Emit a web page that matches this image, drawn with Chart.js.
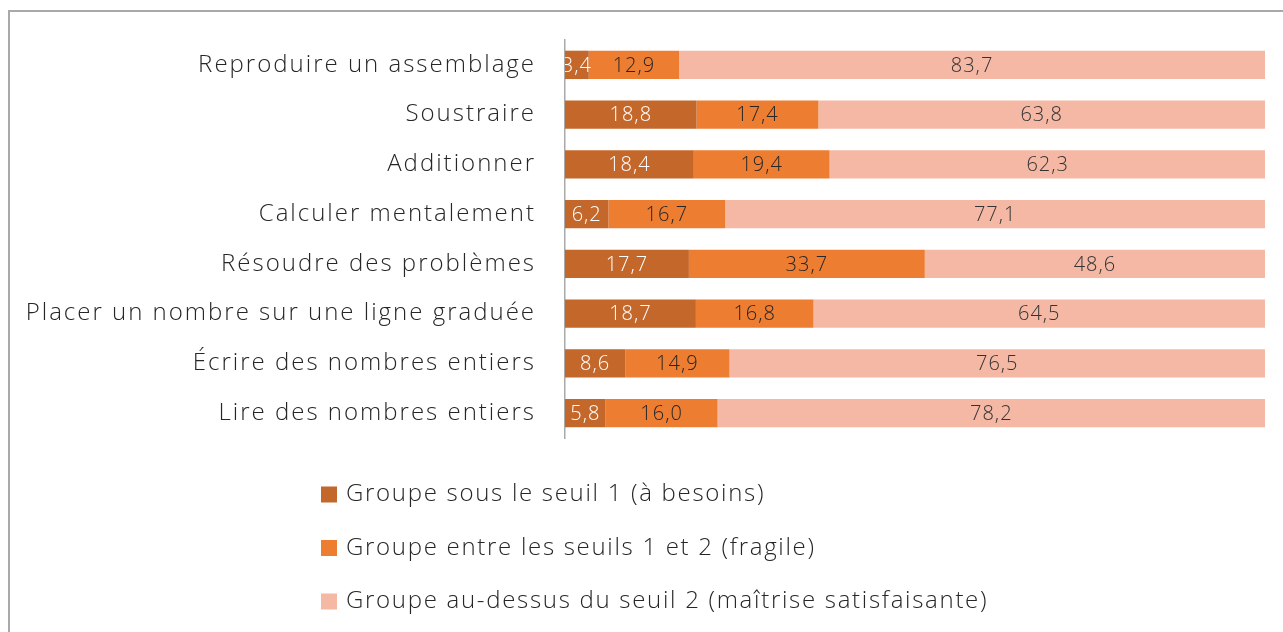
<!DOCTYPE html>
<html><head><meta charset="utf-8">
<script src="https://cdn.jsdelivr.net/npm/chart.js@4"></script>
<style>
html,body{margin:0;padding:0;background:#fff;overflow:hidden;width:1283px;height:632px;}
#frame{position:absolute;left:8px;top:10px;width:1400px;height:700px;border-top:2px solid #A9A9A9;border-left:2px solid #A9A9A9;}
#wrap{position:absolute;left:0;top:0;width:1283px;height:632px;}
</style></head><body>
<div id="frame"></div>
<div id="wrap"><canvas id="c" width="1283" height="632"></canvas></div>
<script>
const categories = [
  "Reproduire un assemblage",
  "Soustraire",
  "Additionner",
  "Calculer mentalement",
  "Résoudre des problèmes",
  "Placer un nombre sur une ligne graduée",
  "Écrire des nombres entiers",
  "Lire des nombres entiers"
];
const seriesNames = [
  "Groupe sous le seuil 1 (à besoins)",
  "Groupe entre les seuils 1 et 2 (fragile)",
  "Groupe au-dessus du seuil 2 (maîtrise satisfaisante)"
];
const belowThreshold1 = [3.4, 18.8, 18.4, 6.2, 17.7, 18.7, 8.6, 5.8];
const between1and2   = [12.9, 17.4, 19.4, 16.7, 33.7, 16.8, 14.9, 16.0];
const aboveThreshold2 = [83.7, 63.8, 62.3, 77.1, 48.6, 64.5, 76.5, 78.2];
const xTicksRange = [0, 100];

const FONT = "'Open Sans', 'Noto Sans', sans-serif";
const colors = ['#C4672A', '#ED7D31', '#F4B8A5'];
const labelColors = ['#FFFFFF', '#262626', '#333333'];
const TICK_SPACING = '2px';
const LEGEND_SPACING = '1.7px';

const spacingPlugin = {
  id: 'spacing',
  beforeDraw(chart) { chart.ctx.letterSpacing = TICK_SPACING; }
};

const dataLabelPlugin = {
  id: 'dataLabels',
  afterDatasetsDraw(chart) {
    const ctx = chart.ctx;
    const area = chart.chartArea;
    ctx.save();
    ctx.letterSpacing = '1px';
    ctx.beginPath();
    ctx.rect(area.left, area.top, area.right - area.left, area.bottom - area.top);
    ctx.clip();
    ctx.font = "300 20px " + FONT;
    ctx.textAlign = 'center';
    ctx.textBaseline = 'middle';
    chart.data.datasets.forEach((ds, di) => {
      const meta = chart.getDatasetMeta(di);
      meta.data.forEach((el, i) => {
        const v = ds.data[i];
        const cx = (el.x + el.base) / 2;
        ctx.fillStyle = labelColors[di];
        ctx.fillText(v.toFixed(1).replace('.', ','), cx, el.y + 1);
      });
    });
    ctx.restore();
  }
};

const legendPlugin = {
  id: 'customLegend',
  afterDraw(chart) {
    const ctx = chart.ctx;
    const area = chart.chartArea;
    ctx.save();
    ctx.letterSpacing = LEGEND_SPACING;
    ctx.font = "300 24px " + FONT;
    ctx.textBaseline = 'middle';
    ctx.textAlign = 'left';
    chart.data.datasets.forEach((ds, i) => {
      const cy = area.bottom + 56.5 + i * 53.5;
      ctx.fillStyle = ds.backgroundColor;
      ctx.fillRect(321, cy - 8, 16, 16);
      ctx.fillStyle = '#262626';
      ctx.fillText(ds.label, 346, cy);
    });
    ctx.restore();
  }
};

const seriesValues = [belowThreshold1, between1and2, aboveThreshold2];

new Chart(document.getElementById('c'), {
  type: 'bar',
  data: {
    labels: categories,
    datasets: seriesValues.map((vals, i) => ({
      label: seriesNames[i],
      data: vals,
      backgroundColor: colors[i],
      borderWidth: 0,
      categoryPercentage: 0.57,
      barPercentage: 1
    }))
  },
  options: {
    indexAxis: 'y',
    responsive: false,
    animation: false,
    devicePixelRatio: 1,
    layout: { padding: { top: 40, right: 18, bottom: 194, left: 0 } },
    plugins: { legend: { display: false }, tooltip: { enabled: false } },
    scales: {
      x: { stacked: true, min: xTicksRange[0], max: xTicksRange[1], display: false },
      y: {
        stacked: true,
        grid: { display: false, drawTicks: false },
        border: { display: true, color: '#A9A9A9', width: 1.5 },
        ticks: { font: { family: FONT, size: 24, weight: 300 }, color: '#262626', padding: 29 },
        afterFit(scale) { scale.width = 565; scale.paddingTop = 0; scale.paddingBottom = 0; }
      }
    }
  },
  plugins: [spacingPlugin, dataLabelPlugin, legendPlugin]
});
</script>
</body></html>
